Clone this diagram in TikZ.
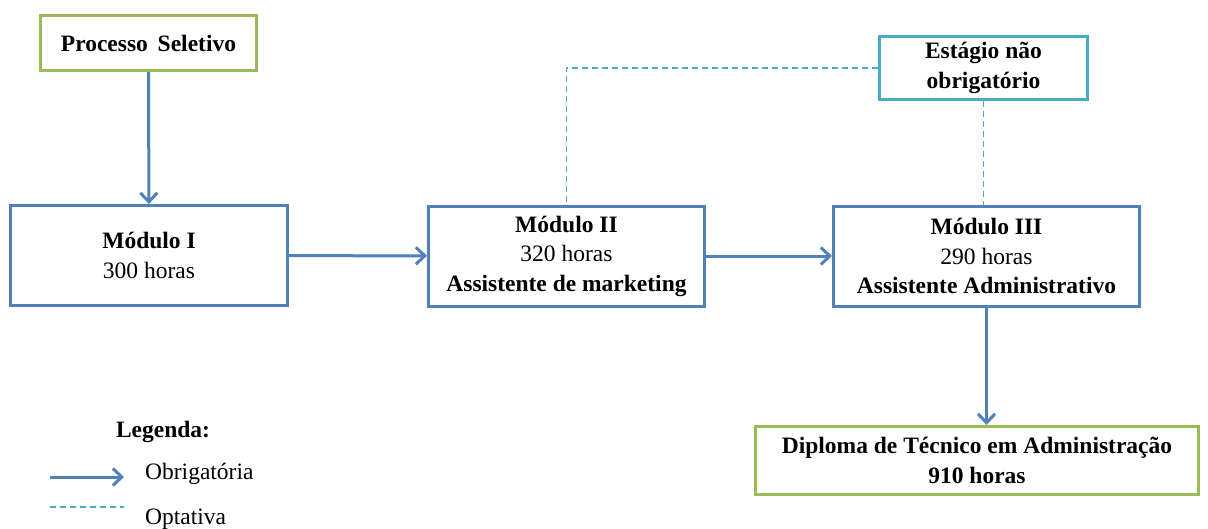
\documentclass[tikz,border=0pt]{standalone}
\usepackage{fontspec}
\setmainfont{Liberation Serif}
\usepackage{tikz}
\usetikzlibrary{arrows.meta,positioning}
\definecolor{modblue}{HTML}{4F81BD}
\definecolor{endgreen}{HTML}{9BBB59}
\definecolor{optcyan}{HTML}{4BACC6}
\newcommand{\boxfont}{\fontsize{23.5}{29.5}\selectfont}
\tikzset{
  modbox/.style={draw=modblue, line width=3pt, align=center, minimum height=100pt, inner sep=2pt},
  gbox/.style={draw=endgreen, line width=3pt, align=center, inner sep=2pt, font=\boxfont\bfseries},
  cbox/.style={draw=optcyan, line width=2.6pt, align=center, inner sep=2pt, font=\boxfont\bfseries},
  line/.style={-{Straight Barb[length=9pt, width=17pt, line width=3pt]}, draw=modblue, line width=3pt},
  opt/.style={draw=optcyan, line width=1.5pt, dash pattern=on 6pt off 4pt}
}

\begin{document}
\begin{tikzpicture}[x=1pt, y=-1pt, font=\boxfont]
        \useasboundingbox (0,0) rectangle (1208,528);
        \node[gbox, minimum width=216pt, minimum height=55pt] (ps) at (148.5,43) {Processo\, Seletivo};

        \node[modbox, minimum width=277pt] (m1) at (149,255.5) {\textbf{Módulo I}\\300 horas};
        \node[modbox, minimum width=276pt] (m2) at (566.5,256) {\textbf{Módulo II}\\320 horas\\\textbf{Assistente de marketing}};
        \node[modbox, minimum width=306pt] (m3) at (986.5,256) {\textbf{Módulo III}\\290 horas\\\textbf{Assistente Administrativo}};
        \draw[line] (ps) -- (m1);
        \draw[line] (m1) -- (m2);
        \draw[line] (m2) -- (m3);

        \node[cbox, minimum width=208pt, minimum height=63pt] (est) at (983.5,68) {Estágio não\\obrigatório};
        \draw[opt] (est.west) -| (m2.north);
        \draw[opt] (est.south) -- (est.south |- m3.north);

        \node[gbox, minimum width=443pt, minimum height=68pt] (dip) at (977,460.5) {Diploma de Técnico em Administração\\910 horas};
        \draw[line] (m3.south) -- (m3.south |- dip.north);

        % legenda
        \node[font=\boxfont\bfseries] (leg) at (163,432) {Legenda:};
        \coordinate (ob1) at (50,477);
        \coordinate (ob2) at (124,477);
        \coordinate (op1) at (50,507);
        \coordinate (op2) at (124,507);
        \draw[line] (ob1) -- (ob2);
        \node[anchor=west, inner sep=0pt] (obr) at (145,474) {Obrigatória};
        \draw[opt] (op1) -- (op2);
        \node[anchor=west, inner sep=0pt] (optv) at (145,519) {Optativa};
      \end{tikzpicture}
\end{document}
